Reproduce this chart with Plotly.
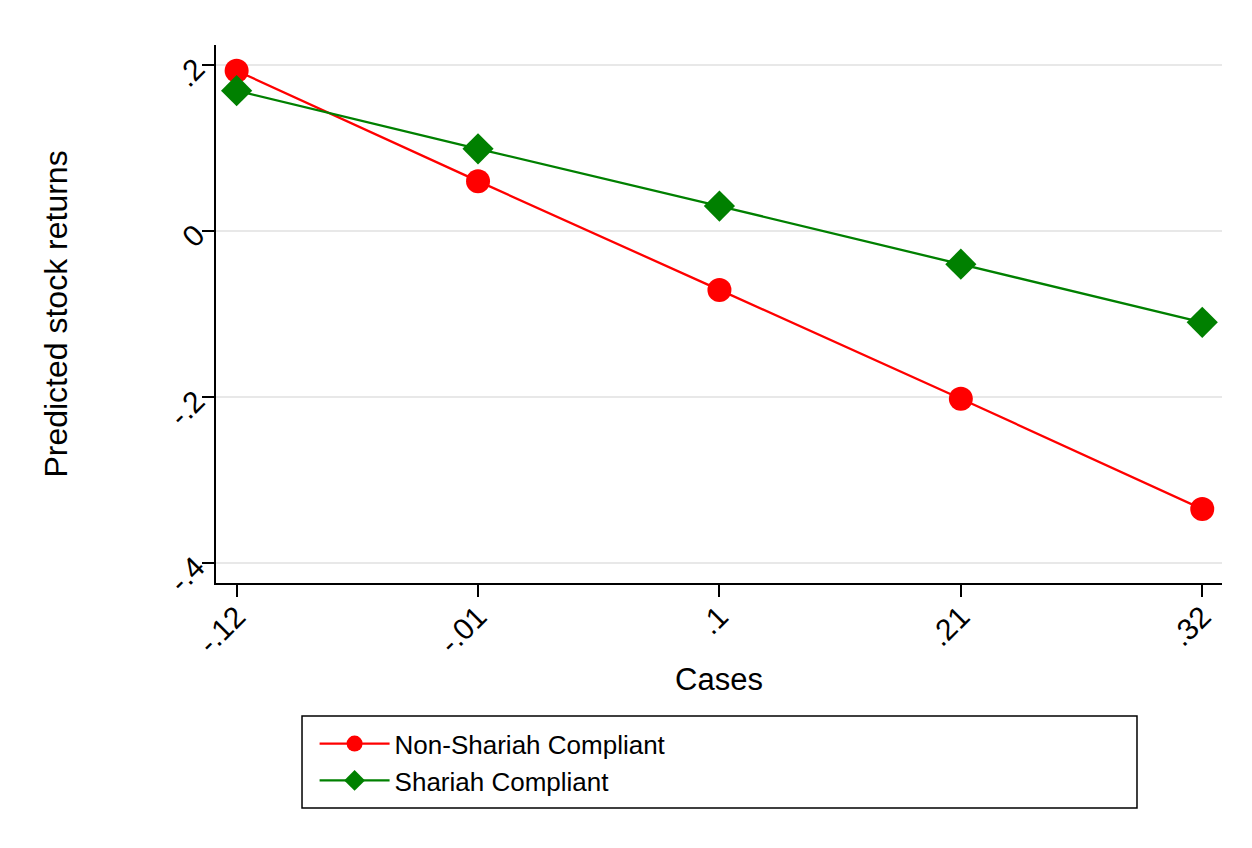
import plotly.graph_objects as go

cases = [-0.12, -0.01, 0.10, 0.21, 0.32]
case_labels = ["-.12", "-.01", ".1", ".21", ".32"]
non_shariah = [0.193, 0.060, -0.071, -0.202, -0.335]
shariah = [0.169, 0.099, 0.030, -0.040, -0.110]
y_ticks = [0.2, 0.0, -0.2, -0.4]
y_tick_labels = [".2", "0", "-.2", "-.4"]

FONT = "Liberation Sans, Arial, sans-serif"

fig = go.Figure()
fig.add_trace(go.Scatter(
    x=cases, y=non_shariah, mode="lines+markers", name="Non-Shariah Compliant",
    line=dict(color="#ff0000", width=2.3),
    marker=dict(symbol="circle", size=24, color="#ff0000"),
))
fig.add_trace(go.Scatter(
    x=cases, y=shariah, mode="lines+markers", name="Shariah Compliant",
    line=dict(color="#008000", width=2.3),
    marker=dict(symbol="diamond", size=24, color="#008000"),
))

fig.update_layout(
    width=1244, height=840,
    margin=dict(l=208, r=30, t=37, b=265, autoexpand=False),
    paper_bgcolor="white", plot_bgcolor="white",
    font=dict(family=FONT, color="black"),
    showlegend=True,
    legend=dict(
        x=0.098, y=-0.255, xanchor="left", yanchor="top",
        font=dict(size=26, family=FONT, color="black"),
        bgcolor="rgba(0,0,0,0)", borderwidth=0,
        itemwidth=70,
    ),
    shapes=[dict(
        type="rect", xref="paper", yref="paper",
        x0=0.0855, x1=0.9155, y0=-0.418, y1=-0.247,
        line=dict(color="black", width=1.5), fillcolor="rgba(0,0,0,0)",
        layer="below",
    )],
)

fig.update_xaxes(
    range=[-0.1294, 0.329],
    tickmode="array", tickvals=cases, ticktext=case_labels,
    tickangle=-45, tickfont=dict(size=30, family=FONT),
    ticks="outside", ticklen=12, tickwidth=2, tickcolor="black",
    ticklabelstandoff=-10,
    showline=True, linecolor="black", linewidth=2,
    showgrid=False, zeroline=False,
    title=dict(text="Cases", font=dict(size=31, family=FONT), standoff=10),
)
fig.update_yaxes(
    range=[-0.424, 0.224],
    tickmode="array", tickvals=y_ticks, ticktext=y_tick_labels,
    tickangle=-45, tickfont=dict(size=30, family=FONT),
    ticks="outside", ticklen=12, tickwidth=2, tickcolor="black",
    showline=True, linecolor="black", linewidth=2,
    showgrid=True, gridcolor="#e8e8e8", gridwidth=2, zeroline=False,
    title=dict(text="Predicted stock returns", font=dict(size=32, family=FONT), standoff=86),
)

fig.write_html("out.html")
